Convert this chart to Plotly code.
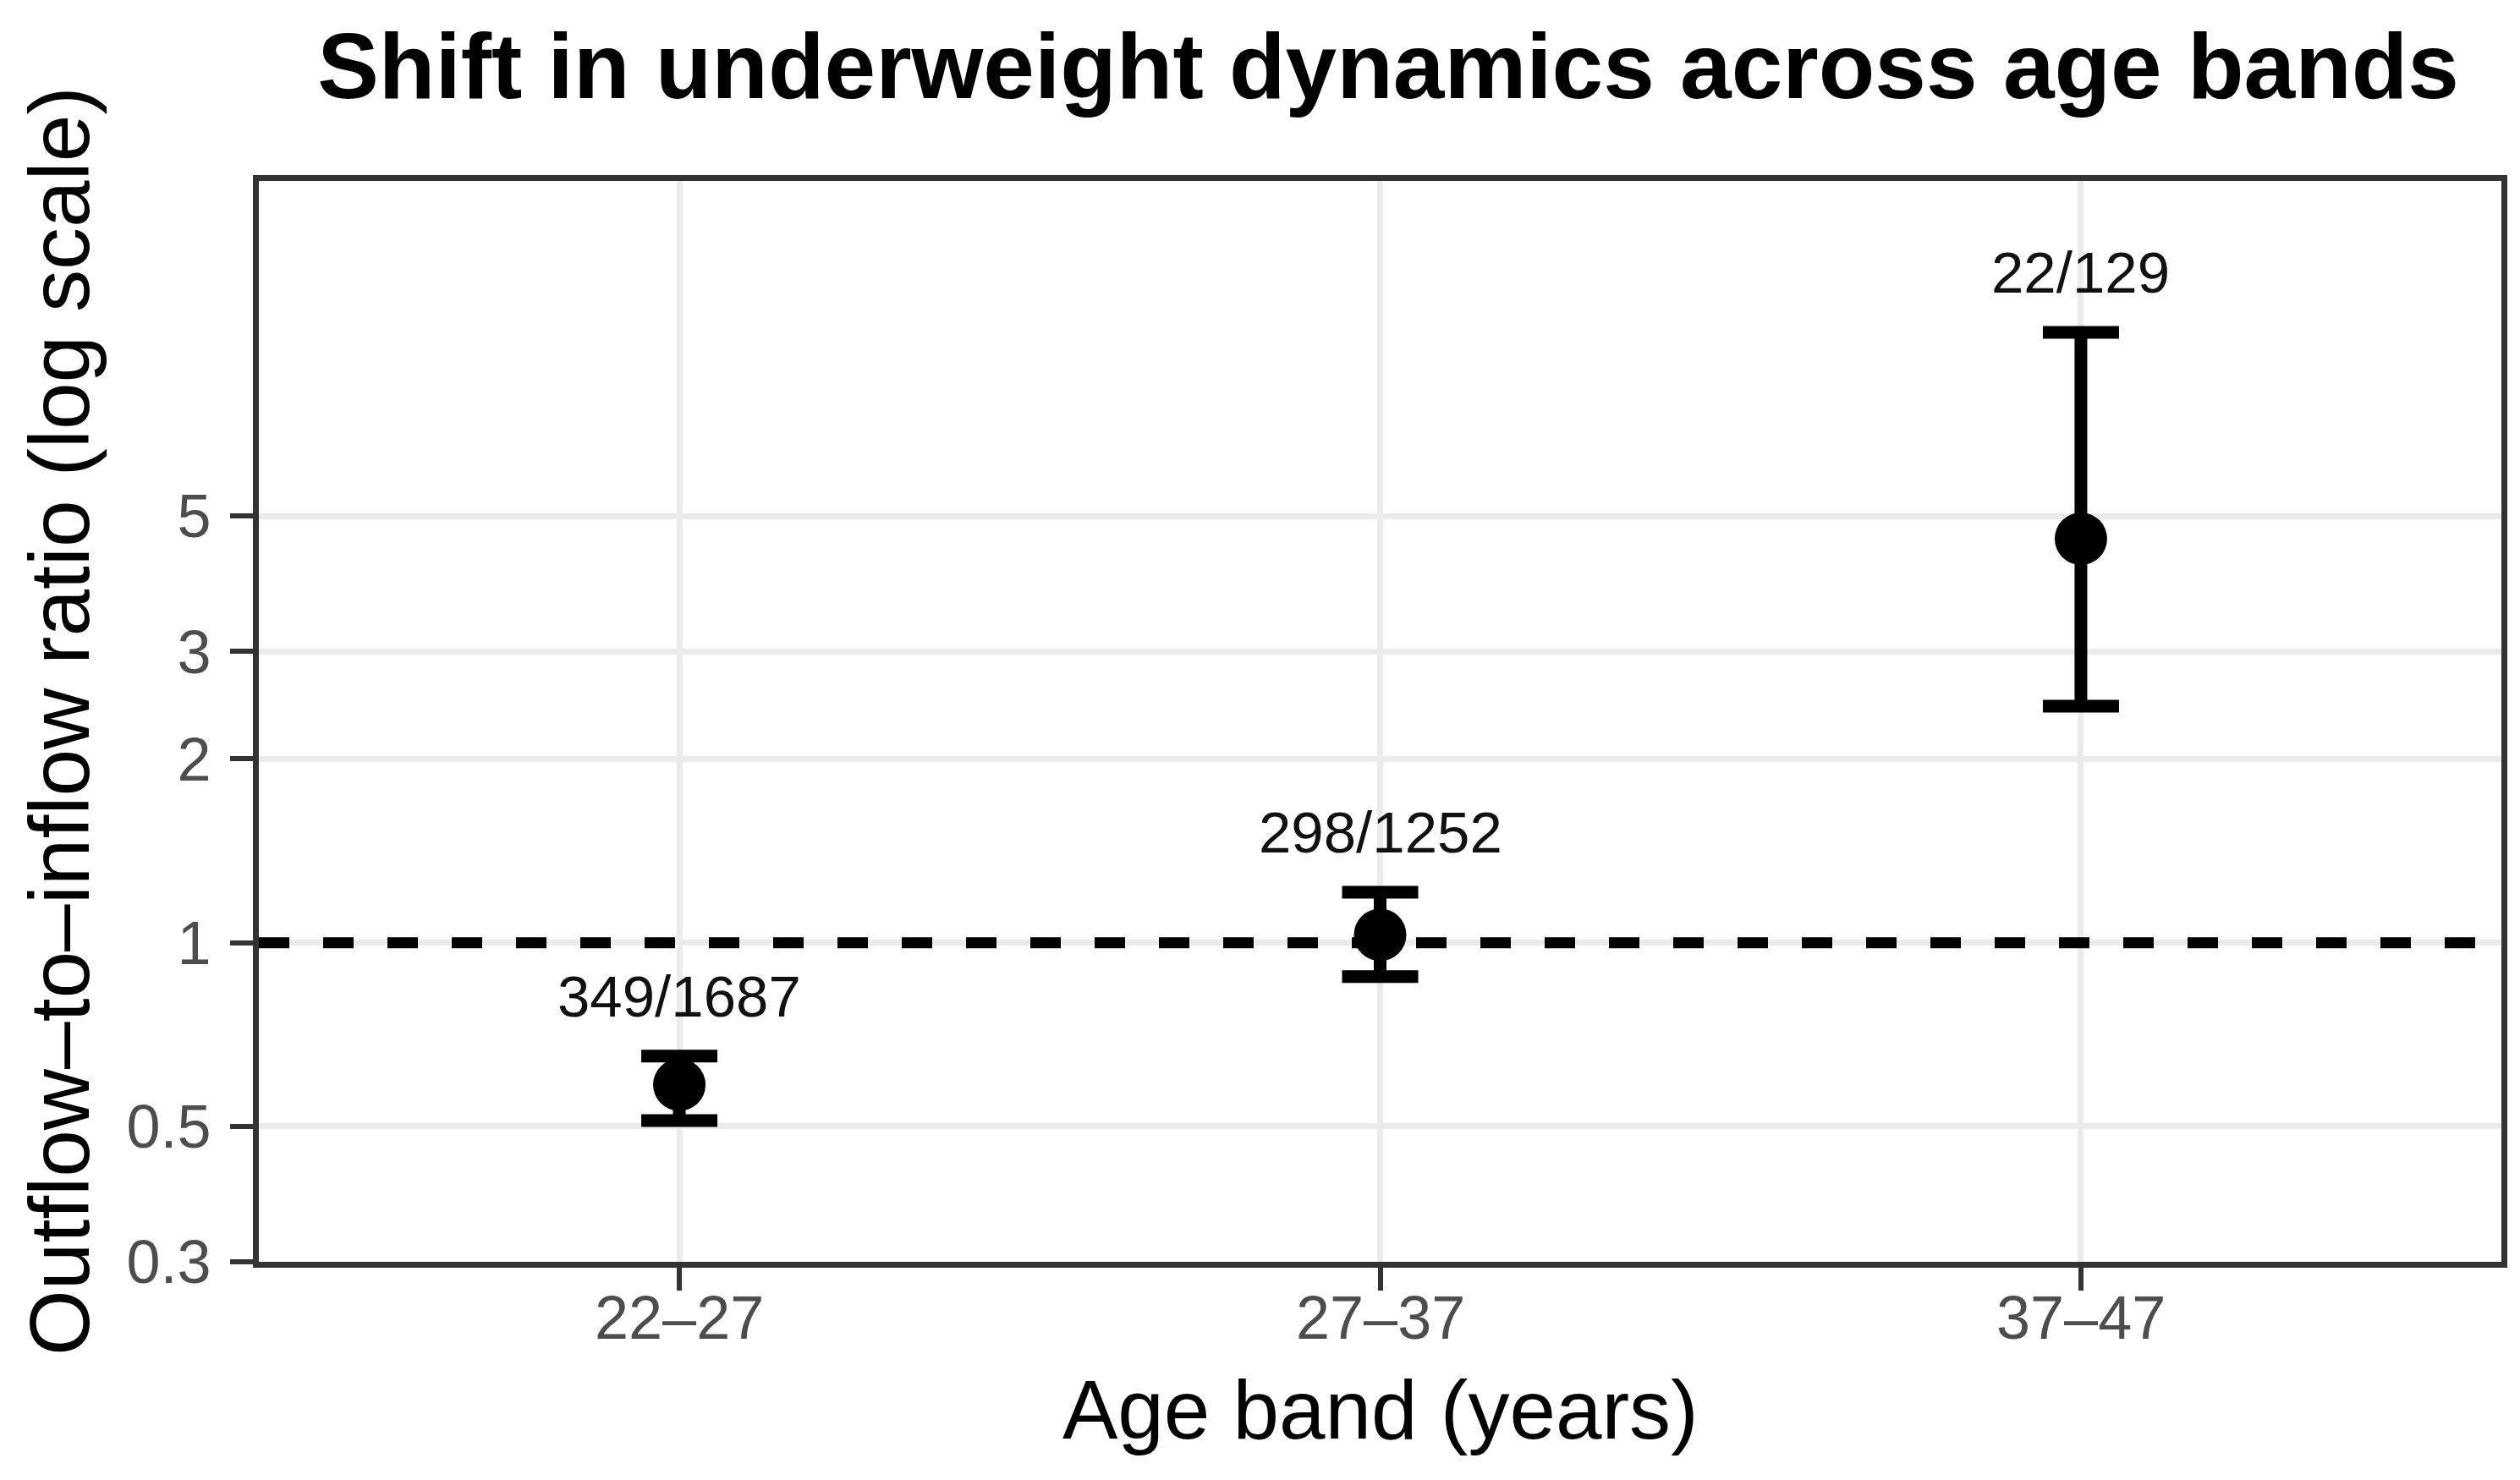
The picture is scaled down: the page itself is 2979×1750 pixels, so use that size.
import math
import plotly.graph_objects as go

# ---- data ----
age_bands = ["22–27", "27–37", "37–47"]
ratio = [0.585, 1.03, 4.59]
ci_lower = [0.511, 0.88, 2.44]
ci_upper = [0.652, 1.21, 10.0]
counts = ["349/1687", "298/1252", "22/129"]
y_tick_vals = [0.3, 0.5, 1, 2, 3, 5]
y_tick_text = ["0.3", "0.5", "1", "2", "3", "5"]
reference_ratio = 1

FONT = "Liberation Sans, Arial, Helvetica, sans-serif"

fig = go.Figure()

fig.add_trace(go.Scatter(
    x=age_bands,
    y=ratio,
    mode="markers",
    marker=dict(color="black", size=62, line=dict(width=0)),
    error_y=dict(
        type="data",
        symmetric=False,
        array=[u - r for u, r in zip(ci_upper, ratio)],
        arrayminus=[r - l for r, l in zip(ratio, ci_lower)],
        color="black",
        thickness=15,
        width=45,
    ),
    showlegend=False,
    hoverinfo="skip",
))

fig.add_shape(
    type="line", xref="paper", x0=0, x1=1, yref="y",
    y0=reference_ratio, y1=reference_ratio,
    line=dict(color="black", width=13, dash="36px,40px"),
    layer="above",
)

for band, up, lab in zip(age_bands, ci_upper, counts):
    fig.add_annotation(
        x=band, y=math.log10(up), text=lab, showarrow=False,
        yanchor="bottom", yshift=30,
        font=dict(family=FONT, size=69, color="#111111"),
    )

# x tick labels placed as text below the ticks
for band in age_bands:
    fig.add_annotation(
        x=band, xref="x", y=0, yref="paper", text=band, showarrow=False,
        xanchor="center", yanchor="middle", yshift=-66,
        font=dict(family=FONT, size=72, color="#4D4D4D"),
    )

# axis titles
fig.add_annotation(
    text="Outflow–to–inflow ratio (log scale)", textangle=-90,
    xref="paper", yref="paper", x=0, y=0.5, xanchor="center", yanchor="middle",
    xshift=-236, showarrow=False,
    font=dict(family=FONT, size=100, color="black"),
)
fig.add_annotation(
    text="Age band (years)",
    xref="paper", yref="paper", x=0.5, y=0, xanchor="center", yanchor="middle",
    yshift=-175, showarrow=False,
    font=dict(family=FONT, size=98, color="black"),
)

fig.update_layout(
    width=2979, height=1750,
    margin=dict(l=298, r=30, t=206, b=266),
    paper_bgcolor="white", plot_bgcolor="white",
    title=dict(
        text="<b>Shift in underweight dynamics across age bands</b>",
        x=0.5482, xanchor="center", xref="container",
        y=1 - 70 / 1750, yanchor="middle", yref="container",
        font=dict(family=FONT, size=109, color="black"),
    ),
)

fig.update_xaxes(
    type="category", range=[-0.6, 2.6],
    showgrid=True, gridcolor="#EBEBEB", gridwidth=7,
    showline=True, linecolor="#333333", linewidth=7, mirror=True,
    ticks="outside", ticklen=27, tickwidth=6, tickcolor="#333333",
    showticklabels=False,
    zeroline=False,
)
fig.update_yaxes(
    type="log", range=[math.log10(0.3), 1.248],
    tickvals=y_tick_vals, ticktext=y_tick_text,
    showgrid=True, gridcolor="#EBEBEB", gridwidth=7,
    showline=True, linecolor="#333333", linewidth=7, mirror=True,
    ticks="outside", ticklen=27, tickwidth=6, tickcolor="#333333",
    tickfont=dict(family=FONT, size=72, color="#4D4D4D"),
    ticklabelstandoff=8,
    zeroline=False,
)

fig.write_html("out.html")
